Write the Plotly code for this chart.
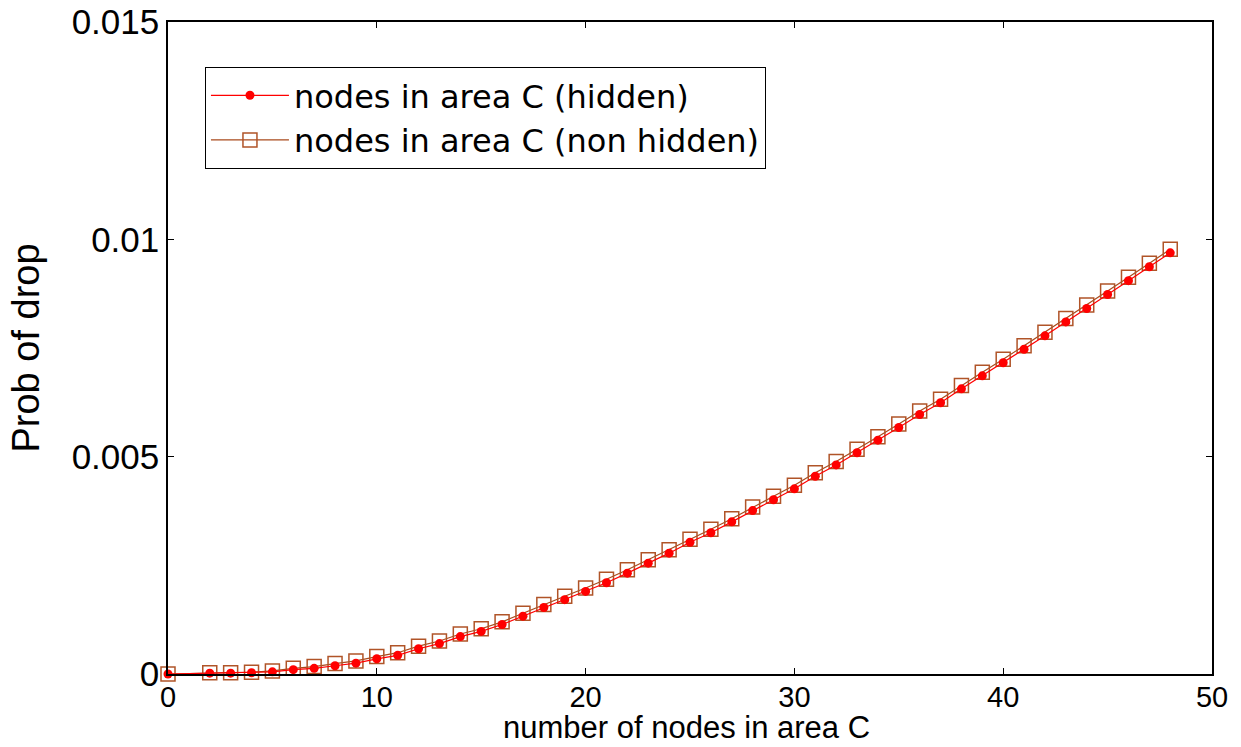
import plotly.graph_objects as go

# number of nodes in area C (x = 1 was not simulated)
nodes = [0] + list(range(2, 49))

# probability of drop, hidden-node case
prob_hidden = [
    0.0, 0.00002, 0.00002, 0.00003, 0.00005, 0.00010, 0.00013, 0.00019, 0.00025,
    0.00035, 0.00043, 0.00058, 0.00070, 0.00086, 0.00098, 0.00114, 0.00133, 0.00153,
    0.00171, 0.00190, 0.00210, 0.00232, 0.00255, 0.00278, 0.00303, 0.00325, 0.00350,
    0.00376, 0.00401, 0.00426, 0.00455, 0.00481, 0.00509, 0.00538, 0.00567, 0.00597,
    0.00624, 0.00656, 0.00686, 0.00716, 0.00747, 0.00778, 0.00810, 0.00841, 0.00873,
    0.00905, 0.00937, 0.00969,
]

# probability of drop, non-hidden case
prob_nonhidden = [
    0.0, 0.00003, 0.00003, 0.00004, 0.00007, 0.00013, 0.00017, 0.00024, 0.00030,
    0.00040, 0.00049, 0.00064, 0.00076, 0.00092, 0.00104, 0.00120, 0.00140, 0.00160,
    0.00179, 0.00198, 0.00218, 0.00240, 0.00263, 0.00286, 0.00310, 0.00333, 0.00357,
    0.00384, 0.00409, 0.00434, 0.00463, 0.00489, 0.00517, 0.00546, 0.00575, 0.00605,
    0.00632, 0.00664, 0.00694, 0.00724, 0.00755, 0.00786, 0.00818, 0.00849, 0.00881,
    0.00913, 0.00945, 0.00977,
]

x_ticks = [0, 10, 20, 30, 40, 50]
y_ticks = [0, 0.005, 0.01, 0.015]
y_ticklabels = ["0", "0.005", "0.01", "0.015"]

FONT = "Liberation Sans, Arial, sans-serif"
WIDE_FONT = "DejaVu Sans, Verdana, sans-serif"
BROWN = "#A94A1C"

fig = go.Figure()

fig.add_trace(go.Scatter(
    x=nodes, y=prob_nonhidden, mode="lines+markers",
    name="nodes in area C (non hidden)", legendrank=2, cliponaxis=False,
    line=dict(color=BROWN, width=1.2),
    marker=dict(symbol="square-open", size=14, color="#B05428",
                line=dict(color="#B05428", width=1.5)),
))

fig.add_trace(go.Scatter(
    x=nodes, y=prob_hidden, mode="lines+markers",
    name="nodes in area C (hidden)", legendrank=1, cliponaxis=False,
    line=dict(color="#FF0000", width=1.2),
    marker=dict(symbol="circle", size=9, color="#FF0000"),
))

axis_common = dict(
    showgrid=False, zeroline=False, showline=True, linecolor="black",
    linewidth=1.5, mirror="ticks", ticks="inside", ticklen=6,
    tickcolor="black", tickwidth=1.2, automargin=False,
)

fig.update_layout(
    width=1241, height=747,
    paper_bgcolor="white", plot_bgcolor="white",
    margin=dict(l=168, r=29, t=22, b=73),
    font=dict(family=FONT, color="black"),
    xaxis=dict(
        range=[0, 50], tickvals=x_ticks, tickfont=dict(size=29),
        ticklabelstandoff=-4,
        **axis_common,
    ),
    yaxis=dict(
        range=[0, 0.015], tickvals=y_ticks, ticktext=y_ticklabels,
        tickfont=dict(size=35),
        title=dict(text="Prob of drop", font=dict(size=38), standoff=20),
        **axis_common,
    ),
    annotations=[dict(
        text="number of nodes in area C", xref="paper", yref="paper",
        x=0.497, y=-0.1105, xanchor="center", yanchor="bottom",
        showarrow=False, borderpad=0, font=dict(size=31, family=FONT),
    )],
    legend=dict(
        x=0.0354, y=0.931, xanchor="left", yanchor="top",
        bordercolor="black", borderwidth=1, bgcolor="white",
        font=dict(size=32, family=WIDE_FONT), itemwidth=78,
        tracegroupgap=0,
    ),
    showlegend=True,
)

fig.write_html("out.html")
